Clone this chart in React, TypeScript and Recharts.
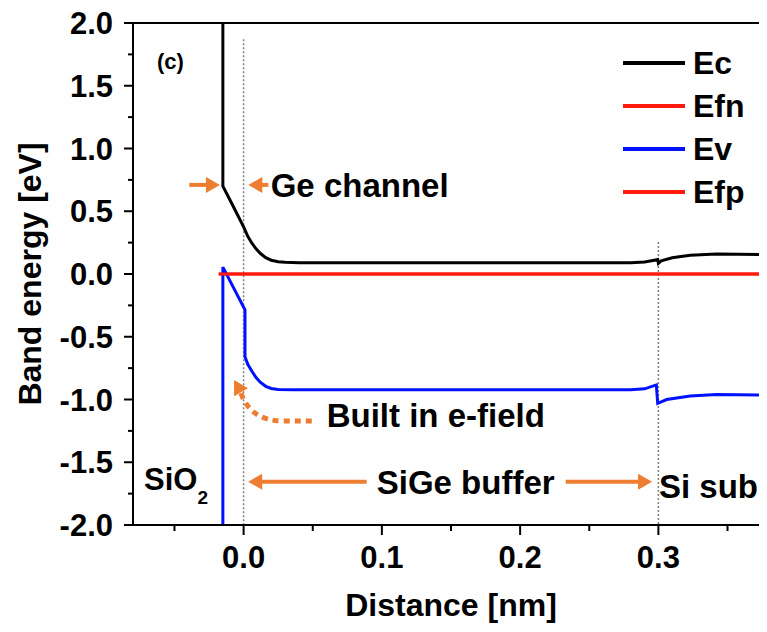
import React from 'react';
import { LineChart, Line, XAxis, YAxis, ReferenceLine, ReferenceDot, Legend } from 'recharts';

const FONT = "'Liberation Sans', Arial, sans-serif";
const ORANGE = '#ed7d31';

// Ec (conduction band)
const ecDistance = [-0.015, -0.015, -0.008, 0.0, 0.003, 0.006, 0.009, 0.012, 0.016, 0.02, 0.025, 0.03, 0.04, 0.28, 0.29, 0.297, 0.2995, 0.3, 0.302, 0.31, 0.323, 0.342, 0.38];
const ecEnergy = [2.0, 0.7, 0.55, 0.375, 0.3, 0.245, 0.2, 0.165, 0.13, 0.11, 0.098, 0.093, 0.09, 0.09, 0.095, 0.11, 0.115, 0.085, 0.105, 0.13, 0.15, 0.16, 0.155];

// quasi Fermi levels
const efDistance = [-0.018, 0.38];
const efnEnergy = [0, 0];
const efpEnergy = [0, 0];

// Ev (valence band)
const evDistance = [-0.015, -0.015, 0.001, 0.001, 0.003, 0.006, 0.009, 0.012, 0.016, 0.02, 0.025, 0.035, 0.28, 0.29, 0.2985, 0.2995, 0.306, 0.323, 0.342, 0.38];
const evEnergy = [-2.0, 0.055, -0.285, -0.66, -0.72, -0.775, -0.825, -0.862, -0.895, -0.912, -0.92, -0.922, -0.922, -0.915, -0.884, -1.03, -1.0, -0.972, -0.96, -0.964];

const seriesNames = ['Ec', 'Efn', 'Ev', 'Efp'];
const seriesColors = ['#000000', '#ff1a0d', '#0011ff', '#ff1a0d'];

const xTicks = [-0.05, 0, 0.05, 0.1, 0.15, 0.2, 0.25, 0.3, 0.35];
const yTicks = [-2, -1.75, -1.5, -1.25, -1, -0.75, -0.5, -0.25, 0, 0.25, 0.5, 0.75, 1, 1.25, 1.5, 1.75, 2];

// region boundaries (dotted)
const boundaryX = [0, 0.3];
const boundaryTop = [1.87, 0.255];

// text notes: left/baseline in data units
const noteText = ['(c)', 'Ge channel', 'Built in e-field', 'SiGe buffer', 'Si sub'];
const noteX = [-0.0627, 0.0196, 0.0601, 0.0963, 0.3004];
const noteY = [1.63, 0.61, -1.217, -1.753, -1.785];
const noteSize = [22, 33, 33, 33, 33];

// straight arrows: from -> tip
const arrowFromX = [-0.0393, 0.0179, 0.089, 0.233];
const arrowToX = [-0.0171, 0.0034, 0.0033, 0.2954];
const arrowY = [0.71, 0.71, -1.655, -1.655];

const toPoints = (xs: number[], ys: number[]) => xs.map((x, i) => ({ x, y: ys[i] }));
const ecData = toPoints(ecDistance, ecEnergy);
const efnData = toPoints(efDistance, efnEnergy);
const efpData = toPoints(efDistance, efpEnergy);
const evData = toPoints(evDistance, evEnergy);

const isMajorX = (v: number) => Math.abs(v * 10 - Math.round(v * 10)) < 1e-6;
const isMajorY = (v: number) => Math.abs(v * 2 - Math.round(v * 2)) < 1e-6;

const BottomTick = ({ x, y, payload }: any) => {
  const major = isMajorX(payload.value);
  return (
    <g>
      <line x1={x} x2={x} y1={y} y2={y + (major ? 10 : 6)} stroke="#000" strokeWidth={2} />
      {major && (
        <text x={x} y={y + 43} textAnchor="middle" fontSize={31} fontWeight="bold" fontFamily={FONT} fill="#000">
          {payload.value.toFixed(1)}
        </text>
      )}
    </g>
  );
};

const TopTick = ({ x, y, payload }: any) => {
  const major = isMajorX(payload.value);
  return <line x1={x} x2={x} y1={y} y2={y + (major ? 10 : 6)} stroke="#000" strokeWidth={2} />;
};

const LeftTick = ({ x, y, payload }: any) => {
  const major = isMajorY(payload.value);
  return (
    <g>
      <line x1={x} x2={x - (major ? 9 : 5)} y1={y} y2={y} stroke="#000" strokeWidth={2} />
      {major && (
        <text x={x - 20} y={y + 11} textAnchor="end" fontSize={31} fontWeight="bold" fontFamily={FONT} fill="#000">
          {payload.value.toFixed(1)}
        </text>
      )}
    </g>
  );
};

const RightTick = ({ x, y, payload }: any) => {
  const major = isMajorY(payload.value);
  return <line x1={x} x2={x - (major ? 9 : 5)} y1={y} y2={y} stroke="#000" strokeWidth={2} />;
};

const XTitle = (props: any) => {
  const vb = props.viewBox || { x: 133, y: 525, width: 636, height: 107 };
  return (
    <text x={vb.x + vb.width / 2} y={vb.y + 91} textAnchor="middle" fontSize={32} fontWeight="bold" fontFamily={FONT} fill="#000">
      Distance [nm]
    </text>
  );
};

const YTitle = (props: any) => {
  const vb = props.viewBox || { x: 0, y: 23, width: 133, height: 502 };
  const cx = 41;
  const cy = vb.y + vb.height / 2;
  return (
    <text x={cx} y={cy} transform={`rotate(-90 ${cx} ${cy})`} textAnchor="middle" fontSize={32} fontWeight="bold" fontFamily={FONT} fill="#000">
      Band energy [eV]
    </text>
  );
};

const arrowHead = (tx: number, ty: number, ux: number, uy: number, head: number, half: number) => {
  const bx = tx - ux * head;
  const by = ty - uy * head;
  return `${tx},${ty} ${bx - uy * half},${by + ux * half} ${bx + uy * half},${by - ux * half}`;
};

const StraightArrow = (p: any) => {
  const { x1, y1, x2, y2 } = p;
  const len = Math.hypot(x2 - x1, y2 - y1) || 1;
  const ux = (x2 - x1) / len;
  const uy = (y2 - y1) / len;
  const head = 14;
  return (
    <g>
      <line x1={x1} y1={y1} x2={x2 - ux * (head - 2)} y2={y2 - uy * (head - 2)} stroke={ORANGE} strokeWidth={4} />
      <polygon points={arrowHead(x2, y2, ux, uy, head, 8)} fill={ORANGE} />
    </g>
  );
};

const CurvedArrow = (p: any) => {
  const { x1, y1, x2, y2 } = p;
  const cx = x2 + 0.3 * (x1 - x2);
  const cy = y1;
  const len = Math.hypot(x2 - cx, y2 - cy) || 1;
  const ux = (x2 - cx) / len;
  const uy = (y2 - cy) / len;
  const head = 14;
  const ex = x2 - ux * (head - 2);
  const ey = y2 - uy * (head - 2);
  return (
    <g>
      <path d={`M${x1},${y1} L${(x1 + x2) / 2 + 10},${y1} Q${cx - 8},${cy} ${ex},${ey}`} fill="none" stroke={ORANGE} strokeWidth={5} strokeDasharray="6 5" />
      <polygon points={arrowHead(x2, y2, ux, uy, head, 8)} fill={ORANGE} />
    </g>
  );
};

const makeNote = (text: string, size: number) => (p: any) => (
  <text x={p.cx} y={p.cy} fontSize={size} fontWeight="bold" fontFamily={FONT} fill="#000">
    {text}
  </text>
);

const SiO2Note = (p: any) => (
  <text x={p.cx} y={p.cy} fontSize={31} fontWeight="bold" fontFamily={FONT} fill="#000">
    SiO
    <tspan fontSize={19} dy={14}>2</tspan>
  </text>
);

const renderLegend = () => (
  <svg width={150} height={190}>
    {seriesNames.map((name, i) => (
      <g key={name}>
        <line x1={8} x2={70} y1={28 + i * 43} y2={28 + i * 43} stroke={seriesColors[i]} strokeWidth={4} />
        <text x={78} y={28 + i * 43 + 11} fontSize={32} fontWeight="bold" fontFamily={FONT} fill="#000">
          {name}
        </text>
      </g>
    ))}
  </svg>
);

export default function App() {
  return (
    <div style={{ margin: -8, width: 767, height: 632, overflow: 'hidden', position: 'relative', background: '#fff' }}>
      <LineChart width={800} height={632} margin={{ top: 22, right: 30, bottom: 0, left: 0 }}>
        <XAxis
          dataKey="x"
          type="number"
          domain={[-0.08, 0.38]}
          ticks={xTicks}
          interval={0}
          allowDataOverflow
          height={107}
          tickSize={0}
          tickMargin={0}
          tickLine={false}
          axisLine={{ stroke: '#000', strokeWidth: 2 }}
          tick={<BottomTick />}
          label={XTitle}
        />
        <XAxis
          xAxisId="top"
          orientation="top"
          type="number"
          domain={[-0.08, 0.38]}
          ticks={xTicks}
          interval={0}
          allowDataOverflow
          height={1}
          tickSize={0}
          tickMargin={0}
          tickLine={false}
          axisLine={{ stroke: '#000', strokeWidth: 2 }}
          tick={<TopTick />}
        />
        <YAxis
          type="number"
          domain={[-2, 2]}
          ticks={yTicks}
          interval={0}
          allowDataOverflow
          width={133}
          tickSize={0}
          tickMargin={0}
          tickLine={false}
          axisLine={{ stroke: '#000', strokeWidth: 2 }}
          tick={<LeftTick />}
          label={YTitle}
        />
        <YAxis
          yAxisId="right"
          orientation="right"
          type="number"
          domain={[-2, 2]}
          ticks={yTicks}
          interval={0}
          allowDataOverflow
          width={1}
          tickSize={0}
          tickMargin={0}
          tickLine={false}
          axisLine={{ stroke: '#000', strokeWidth: 2 }}
          tick={<RightTick />}
        />
        {boundaryX.map((bx, i) => (
          <ReferenceLine
            key={`b${i}`}
            segment={[{ x: bx, y: boundaryTop[i] }, { x: bx, y: -2 }]}
            stroke="#7f7f7f"
            strokeWidth={1.5}
            strokeDasharray="2 2"
          />
        ))}
        <Line data={ecData} dataKey="y" name={seriesNames[0]} type="linear" stroke={seriesColors[0]} strokeWidth={3} dot={false} isAnimationActive={false} />
        <Line data={efnData} dataKey="y" name={seriesNames[1]} type="linear" stroke={seriesColors[1]} strokeWidth={3} dot={false} isAnimationActive={false} />
        <Line data={evData} dataKey="y" name={seriesNames[2]} type="linear" stroke={seriesColors[2]} strokeWidth={3} dot={false} isAnimationActive={false} />
        <Line data={efpData} dataKey="y" name={seriesNames[3]} type="linear" stroke={seriesColors[3]} strokeWidth={3} dot={false} isAnimationActive={false} />
        {arrowFromX.map((fx, i) => (
          <ReferenceLine
            key={`a${i}`}
            segment={[{ x: fx, y: arrowY[i] }, { x: arrowToX[i], y: arrowY[i] }]}
            shape={StraightArrow}
          />
        ))}
        <ReferenceLine segment={[{ x: 0.0493, y: -1.171 }, { x: -0.0069, y: -0.845 }]} shape={CurvedArrow} />
        {noteText.map((t, i) => (
          <ReferenceDot key={`n${i}`} x={noteX[i]} y={noteY[i]} r={0} shape={makeNote(t, noteSize[i])} />
        ))}
        <ReferenceDot x={-0.072} y={-1.721} r={0} shape={SiO2Note} />
        <Legend
          layout="vertical"
          align="center"
          verticalAlign="middle"
          content={renderLegend}
          wrapperStyle={{ position: 'absolute', left: 615, top: 35, width: 150, height: 190 }}
        />
      </LineChart>
    </div>
  );
}
